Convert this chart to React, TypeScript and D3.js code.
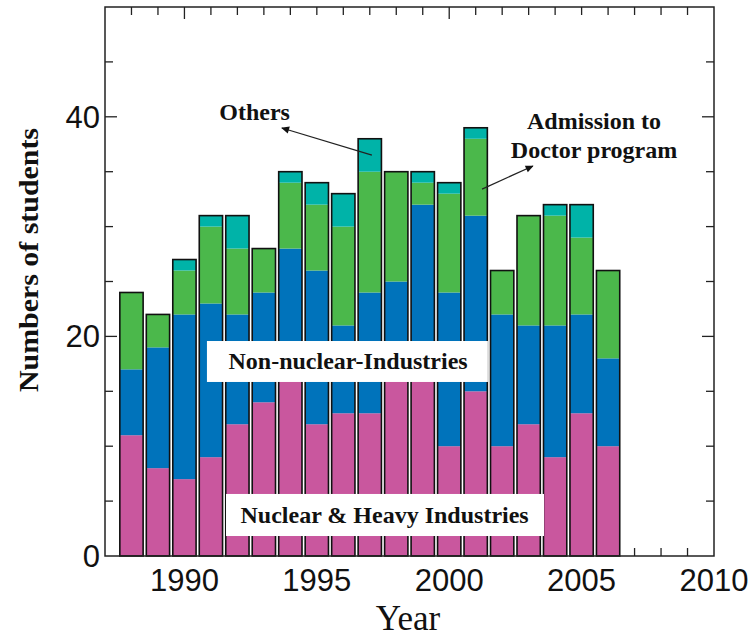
import * as d3 from 'd3';

// Students by destination, 1988–2006
const years = [1988, 1989, 1990, 1991, 1992, 1993, 1994, 1995, 1996, 1997, 1998, 1999, 2000, 2001, 2002, 2003, 2004, 2005, 2006];
const nuclear = [11, 8, 7, 9, 12, 14, 17, 12, 13, 13, 16, 17, 10, 15, 10, 12, 9, 13, 10];
const nonNuclear = [6, 11, 15, 14, 10, 10, 11, 14, 8, 11, 9, 15, 14, 16, 12, 9, 12, 9, 8];
const doctor = [7, 3, 4, 7, 6, 4, 6, 6, 9, 11, 10, 2, 9, 7, 4, 10, 10, 7, 8];
const others = [0, 0, 1, 1, 3, 0, 1, 2, 3, 3, 0, 1, 1, 1, 0, 0, 1, 3, 0];

const xTickLabels = [1990, 1995, 2000, 2005, 2010];
const yTickLabels = [0, 20, 40];

const seriesKeys = ['nuclear', 'nonNuclear', 'doctor', 'others'] as const;
const colors: Record<string, string> = {
  nuclear: '#c9579e',
  nonNuclear: '#0073bb',
  doctor: '#4bb84b',
  others: '#00b3a8',
};

const W = 755;
const H = 641;
const left = 105;
const right = 714;
const top = 7;
const bottom = 556;

export default function App() {
  const x = d3.scaleLinear().domain([1987, 2010]).range([left, right]);
  const y = d3.scaleLinear().domain([0, 50]).range([bottom, top]);

  const rows = years.map((yr, i) => ({
    year: yr,
    nuclear: nuclear[i],
    nonNuclear: nonNuclear[i],
    doctor: doctor[i],
    others: others[i],
  }));
  const stack = d3.stack<any>().keys(seriesKeys as unknown as string[])(rows);

  const step = x(1) - x(0);
  const bw = step * 0.88;

  const minorX = d3.range(1988, 2010);
  const minorY = d3.range(5, 50, 5);

  const serif = '"Liberation Serif", "Times New Roman", serif';
  const sans = '"Liberation Sans", Arial, sans-serif';
  const labelSize = 24;

  return (
    <svg width={W} height={H} style={{ position: 'absolute', left: 0, top: 0, background: '#fff' }}>
      <defs>
        <marker id="ah" viewBox="0 0 10 10" refX="9" refY="5" markerWidth="10" markerHeight="8" orient="auto" markerUnits="userSpaceOnUse">
          <path d="M0,0.5 L10,5 L0,9.5 z" fill="#111" />
        </marker>
      </defs>

      {/* ticks */}
      <g stroke="#222" strokeWidth={1.3}>
        {minorX.map((v) => {
          const len = v % 10 === 0 ? 12 : 8;
          return (
            <g key={v}>
              <line x1={x(v)} x2={x(v)} y1={top} y2={top + len} />
              <line x1={x(v)} x2={x(v)} y1={bottom} y2={bottom - len} />
            </g>
          );
        })}
        {minorY.map((v) => {
          const len = v % 20 === 0 ? 12 : 8;
          return (
            <g key={v}>
              <line x1={left} x2={left + len} y1={y(v)} y2={y(v)} />
              <line x1={right} x2={right - len} y1={y(v)} y2={y(v)} />
            </g>
          );
        })}
      </g>

      {/* stacked bars */}
      {stack.map((layer) => (
        <g key={layer.key} fill={colors[layer.key]}>
          {layer.map((d: any, i: number) =>
            d[1] > d[0] ? (
              <rect key={i} x={x(years[i]) - bw / 2} width={bw} y={y(d[1])} height={y(d[0]) - y(d[1])} />
            ) : null
          )}
        </g>
      ))}
      <g fill="none" stroke="#111" strokeWidth={1.6}>
        {rows.map((r) => {
          const total = r.nuclear + r.nonNuclear + r.doctor + r.others;
          return <rect key={r.year} x={x(r.year) - bw / 2} width={bw} y={y(total)} height={y(0) - y(total)} />;
        })}
      </g>

      {/* frame */}
      <rect x={left} y={top} width={right - left} height={bottom - top} fill="none" stroke="#222" strokeWidth={1.5} />

      {/* tick labels */}
      <g fontFamily={sans} fontSize={31} fill="#111">
        {xTickLabels.map((v) => (
          <text key={v} x={x(v)} y={591} textAnchor="middle">{v}</text>
        ))}
        {yTickLabels.map((v) => (
          <text key={v} x={left - 5} y={y(v) + 11} textAnchor="end">{v}</text>
        ))}
      </g>

      {/* axis titles */}
      <text x={408} y={630} textAnchor="middle" fontFamily={serif} fontSize={35} fill="#111">Year</text>
      <text
        transform={`translate(38,${(128 + 392) / 2}) rotate(-90)`}
        textAnchor="middle"
        fontFamily={serif}
        fontWeight="bold"
        fontSize={27}
        textLength={264}
        lengthAdjust="spacingAndGlyphs"
        fill="#111"
      >
        Numbers of students
      </text>

      {/* category labels */}
      <rect x={x(1990.85)} y={y(19.58)} width={x(2001.46) - x(1990.85)} height={y(15.85) - y(19.58)} fill="#fff" />
      <text x={x(1996.18)} y={y(17.0)} textAnchor="middle" fontFamily={serif} fontWeight="bold" fontSize={labelSize} fill="#111">
        Non-nuclear-Industries
      </text>
      <rect x={x(1991.57)} y={y(5.65)} width={x(2003.58) - x(1991.57)} height={y(1.82) - y(5.65)} fill="#fff" />
      <text x={x(1997.56)} y={y(2.98)} textAnchor="middle" fontFamily={serif} fontWeight="bold" fontSize={labelSize} fill="#111">
        Nuclear &amp; Heavy Industries
      </text>

      {/* annotations */}
      <text x={x(1992.65)} y={y(39.7)} textAnchor="middle" fontFamily={serif} fontWeight="bold" fontSize={labelSize} fill="#111">
        Others
      </text>
      <line x1={x(1997.08)} y1={y(36.52)} x2={x(1993.68)} y2={y(38.98)} stroke="#222" strokeWidth={1.3} markerEnd="url(#ah)" />
      <text textAnchor="middle" fontFamily={serif} fontWeight="bold" fontSize={labelSize} fill="#111">
        <tspan x={x(2005.47)} y={y(38.86)}>Admission to</tspan>
        <tspan x={x(2005.47)} y={y(36.22)}>Doctor program</tspan>
      </text>
      <line x1={x(2001.24)} y1={y(33.42)} x2={x(2003.16)} y2={y(35.52)} stroke="#222" strokeWidth={1.3} markerEnd="url(#ah)" />
    </svg>
  );
}
